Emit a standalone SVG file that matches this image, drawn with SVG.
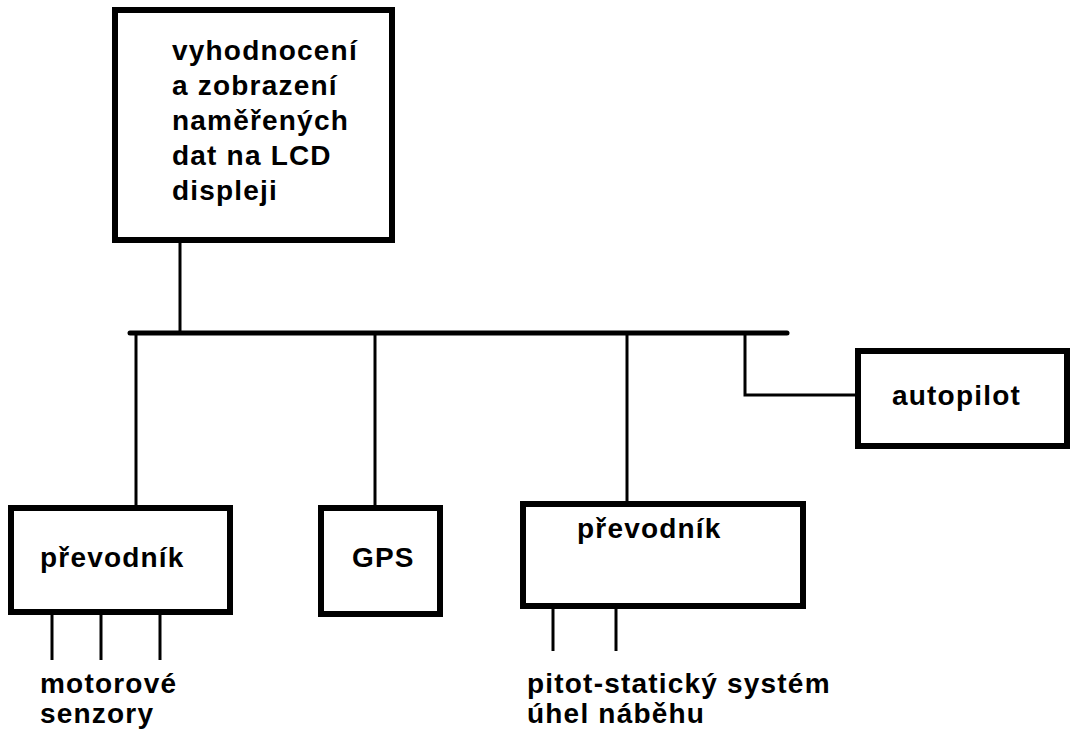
<svg xmlns="http://www.w3.org/2000/svg" width="1072" height="729" viewBox="0 0 1072 729">
<style>
.box{fill:#fff;stroke:#000;stroke-width:6}
.ln{stroke:#000;stroke-width:3;fill:none}
.bus{stroke:#000;stroke-width:5;stroke-linecap:round;fill:none}
text{font-family:"Liberation Sans",Arial,sans-serif;font-weight:bold;font-size:28px;letter-spacing:1.2px;fill:#000}
</style>
<rect width="1072" height="729" fill="#fff"/>
<g id="connectors">
<line class="ln" x1="180" y1="240" x2="180" y2="333"/>
<line class="bus" x1="130" y1="333" x2="787" y2="333"/>
<line class="ln" x1="136" y1="333" x2="136" y2="508"/>
<line class="ln" x1="375" y1="333" x2="375" y2="508"/>
<line class="ln" x1="627" y1="333" x2="627" y2="503"/>
<polyline class="ln" points="745,333 745,395 858,395"/>
<line class="ln" x1="52" y1="612" x2="52" y2="660"/>
<line class="ln" x1="101" y1="612" x2="101" y2="660"/>
<line class="ln" x1="160" y1="612" x2="160" y2="660"/>
<line class="ln" x1="553" y1="606" x2="553" y2="651"/>
<line class="ln" x1="616" y1="606" x2="616" y2="651"/>
</g>
<g id="display">
<rect class="box" x="115" y="10" width="277" height="230"/>
<text x="172" y="60">vyhodnocení</text>
<text x="172" y="95">a zobrazení</text>
<text x="172" y="130">naměřených</text>
<text x="172" y="165">dat na LCD</text>
<text x="172" y="200">displeji</text>
</g>
<g id="prevodnik1">
<rect class="box" x="11" y="508" width="219" height="104"/>
<text x="40" y="567">převodník</text>
</g>
<g id="gps">
<rect class="box" x="321" y="508" width="119" height="106"/>
<text x="352" y="567">GPS</text>
</g>
<g id="prevodnik2">
<rect class="box" x="523" y="504" width="280" height="102"/>
<text x="577" y="538">převodník</text>
</g>
<g id="autopilot">
<rect class="box" x="858" y="351" width="209" height="95"/>
<text x="892" y="405">autopilot</text>
</g>
<g id="labels">
<text x="40" y="693">motorové</text>
<text x="40" y="723">senzory</text>
<text x="527" y="693">pitot-statický systém</text>
<text x="527" y="723">úhel náběhu</text>
</g>
</svg>
